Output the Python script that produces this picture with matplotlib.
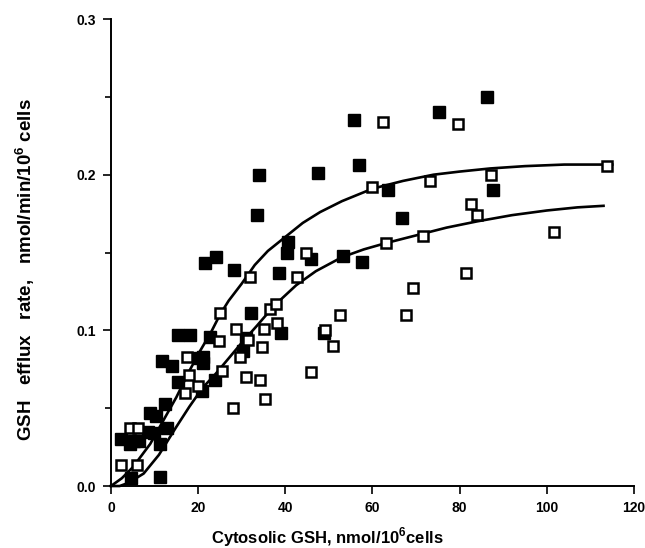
import numpy as np
import matplotlib
matplotlib.use("Agg")
import matplotlib.pyplot as plt
from matplotlib.ticker import MultipleLocator

# --- datos ---
# cuadrados rellenos
llenos_x = [2.2, 4.4, 5.4, 6.4, 4.7, 11.2, 8.9, 10.4, 8.6, 9.8, 12.8, 11.2,
            12.4, 11.6, 13.9, 15.4, 15.3, 18.2, 20.2, 21.1, 21.2, 20.9, 22.7, 23.9,
            21.6, 24.0, 28.2, 32.1, 30.9, 30.4, 38.9, 34.0, 33.4, 40.7, 40.5, 38.5,
            46.0, 47.6, 55.8, 57.0, 53.3, 57.7, 63.5, 66.7, 75.3, 86.2, 87.7, 48.8]
llenos_y = [0.030, 0.027, 0.029, 0.029, 0.005, 0.006, 0.047, 0.045, 0.035, 0.034, 0.037, 0.027,
            0.053, 0.080, 0.077, 0.067, 0.097, 0.097, 0.082, 0.083, 0.079, 0.061, 0.096, 0.068,
            0.143, 0.147, 0.139, 0.111, 0.095, 0.087, 0.098, 0.200, 0.174, 0.157, 0.150, 0.137,
            0.146, 0.201, 0.235, 0.206, 0.148, 0.144, 0.190, 0.172, 0.240, 0.250, 0.190, 0.098]

# cuadrados vacios
vacios_x = [2.4, 5.9, 4.4, 6.3, 17.4, 18.0, 17.0, 20.0, 25.1, 24.8, 25.4, 28.1,
            28.8, 29.6, 31.5, 31.0, 34.6, 34.2, 35.2, 35.3, 36.5, 37.8, 38.0, 45.9,
            49.1, 51.0, 52.6, 31.9, 44.7, 42.6, 62.3, 79.7, 60.0, 73.3, 87.3, 113.9,
            82.6, 84.0, 101.7, 63.2, 71.7, 81.4, 69.2, 67.7]
vacios_y = [0.0135, 0.0135, 0.037, 0.037, 0.083, 0.071, 0.060, 0.064, 0.111, 0.093, 0.074, 0.050,
            0.101, 0.083, 0.094, 0.070, 0.089, 0.068, 0.101, 0.056, 0.114, 0.117, 0.105, 0.073,
            0.100, 0.090, 0.110, 0.134, 0.150, 0.134, 0.234, 0.2325, 0.192, 0.196, 0.200, 0.2055,
            0.181, 0.174, 0.163, 0.156, 0.1605, 0.137, 0.127, 0.110]

# curvas ajustadas (puntos leidos sobre las lineas)
curva1_x = [0, 2.5, 5, 9, 12, 15, 18, 20.5, 23, 25, 27, 30, 33, 36, 40, 44, 48, 53,
            60, 67, 74, 80, 87, 95, 104, 115]
curva1_y = [0.0, 0.005, 0.012, 0.027, 0.042, 0.057, 0.074, 0.087, 0.099, 0.110, 0.119, 0.130,
            0.142, 0.151, 0.160, 0.169, 0.176, 0.183, 0.191, 0.196, 0.200, 0.202, 0.204,
            0.2055, 0.2065, 0.2065]

curva2_x = [0, 2, 4, 7.5, 11, 15, 18, 21, 24, 27, 30, 33.5, 37.5, 42.5, 47, 53, 58, 63,
            70, 77, 84, 92, 100, 107, 113]
curva2_y = [0.0, 0.0, 0.002, 0.008, 0.020, 0.038, 0.051, 0.063, 0.072, 0.082, 0.092, 0.103,
            0.116, 0.129, 0.138, 0.147, 0.152, 0.156, 0.161, 0.166, 0.170, 0.174, 0.177,
            0.179, 0.180]

ticks_x = [0, 20, 40, 60, 80, 100, 120]
ticks_y = [0.0, 0.1, 0.2, 0.3]

# --- figura ---
plt.rcParams['font.family'] = ['Liberation Sans', 'DejaVu Sans']
plt.rcParams['font.weight'] = 'bold'
plt.rcParams['mathtext.fontset'] = 'custom'
plt.rcParams['mathtext.rm'] = 'Liberation Sans:bold'
plt.rcParams['mathtext.bf'] = 'Liberation Sans:bold'

fig = plt.figure(figsize=(6.45, 5.48), dpi=100)
ax = fig.add_axes([0.172, 0.1131, 0.811, 0.8522])

ax.plot(curva1_x, curva1_y, color='black', lw=1.9, zorder=2, solid_joinstyle='round')
ax.plot(curva2_x, curva2_y, color='black', lw=1.9, zorder=2, solid_joinstyle='round')

ax.plot(llenos_x, llenos_y, 's', ms=8.3, color='black', mec='black', zorder=3)
ax.plot(vacios_x, vacios_y, 's', ms=7.5, mfc='white', mec='black', mew=1.8, zorder=4)

ax.set_xlim(0, 120)
ax.set_ylim(0, 0.3)
ax.set_xticks(ticks_x)
ax.set_xticklabels([str(t) for t in ticks_x])
ax.set_yticks(ticks_y)
ax.set_yticklabels(['%.1f' % t for t in ticks_y])
ax.yaxis.set_minor_locator(MultipleLocator(0.05))

for lado in ['top', 'right']:
    ax.spines[lado].set_visible(False)
for lado in ['left', 'bottom']:
    ax.spines[lado].set_linewidth(1.4)

ax.tick_params(axis='both', which='major', direction='out', length=6, width=1.2,
               labelsize=10, pad=5)
ax.tick_params(axis='y', which='minor', direction='out', length=4, width=1.2)
for lab in ax.get_xticklabels() + ax.get_yticklabels():
    lab.set_fontweight('bold')

ax.patch.set_visible(False)
for a in ax.lines:
    a.set_clip_on(False)

fig.text(327 / 645, 1 - 537 / 548, r'Cytosolic GSH, nmol/10$^{\mathbf{6}}$cells',
         ha='center', va='center', fontsize=12, fontweight='bold')
fig.text(25 / 645, 1 - 270 / 548, r'GSH   efflux   rate,   nmol/min/10$^{\mathbf{6}}$ cells',
         ha='center', va='center', rotation=90, fontsize=13.5, fontweight='bold')

fig.savefig('out.png', dpi=100)
